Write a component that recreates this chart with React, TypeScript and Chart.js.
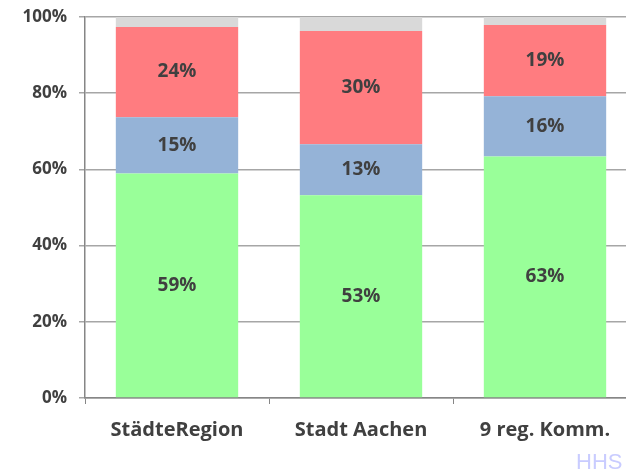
import React, { useEffect, useRef } from "react";
import { Chart, registerables } from "chart.js";

Chart.register(...registerables);

const categories = ["StädteRegion", "Stadt Aachen", "9 reg. Komm."];
const greenValues = [58.9, 53.2, 63.4];
const blueValues = [14.8, 13.4, 15.8];
const redValues = [23.7, 29.7, 18.7];
const grayValues = [2.6, 3.7, 2.1];
const yTicks = [0, 20, 40, 60, 80, 100];

const FONT = "'Open Sans', Lato, sans-serif";
const TEXT = "#404040";

const labelPlugin = {
  id: "segLabels",
  afterDatasetsDraw(chart: any) {
    const ctx = chart.ctx;
    ctx.save();
    ctx.font = `bold 19px ${FONT}`;
    ctx.fillStyle = TEXT;
    ctx.textAlign = "center";
    ctx.textBaseline = "middle";
    chart.data.datasets.forEach((ds: any, di: number) => {
      if (di > 2) return;
      const meta = chart.getDatasetMeta(di);
      meta.data.forEach((bar: any, i: number) => {
        const v = ds.data[i];
        const y = (bar.y + bar.base) / 2;
        ctx.fillText(`${Math.round(v)}%`, bar.x, y);
      });
    });
    ctx.restore();
  },
};

export default function App() {
  const ref = useRef<HTMLCanvasElement>(null);
  useEffect(() => {
    if (!ref.current) return;
    const chart = new Chart(ref.current, {
      type: "bar",
      data: {
        labels: categories,
        datasets: [
          { data: greenValues, backgroundColor: "#99FF99" },
          { data: blueValues, backgroundColor: "#95B3D7" },
          { data: redValues, backgroundColor: "#FF7C80" },
          { data: grayValues, backgroundColor: "#D9D9D9" },
        ].map((d) => ({ ...d, categoryPercentage: 1, barPercentage: 0.665, borderWidth: 0 })),
      },
      options: {
        animation: false,
        responsive: false,
        maintainAspectRatio: false,
        layout: { padding: { top: 17, right: 23, left: 0, bottom: 0 } },
        plugins: { legend: { display: false }, tooltip: { enabled: false } },
        scales: {
          x: {
            stacked: true,
            offset: true,
            grid: {
              offset: true,
              drawOnChartArea: false,
              drawTicks: true,
              tickLength: 6,
              color: "#868686",
              lineWidth: 1,
            },
            border: { color: "#868686", width: 1.5 },
            ticks: {
              color: TEXT,
              font: { family: FONT, size: 20, weight: "bold" },
              padding: 14,
            },
            afterFit(scale: any) {
              scale.height = 74;
              scale.paddingLeft = 0;
              scale.paddingRight = 0;
            },
          },
          y: {
            stacked: true,
            min: 0,
            max: 100,
            afterBuildTicks(scale: any) {
              scale.ticks = yTicks.map((v) => ({ value: v }));
            },
            grid: {
              color: "#A6A6A6",
              lineWidth: 1.5,
              tickLength: 6,
            },
            border: { color: "#868686", width: 1.5 },
            ticks: {
              color: TEXT,
              font: { family: FONT, size: 17, weight: "bold" },
              padding: 12,
              callback: (v: any) => `${v}%`,
            },
            afterFit(scale: any) {
              scale.width = 85;
              scale.paddingTop = 0;
              scale.paddingBottom = 0;
            },
          },
        },
      },
      plugins: [labelPlugin],
    });
    return () => chart.destroy();
  }, []);
  return (
    <div style={{ position: "fixed", left: 0, top: 0, width: 660, height: 472, background: "#fff", overflow: "hidden" }}>
      <canvas ref={ref} width={660} height={472} style={{ display: "block" }} />
      <div
        style={{
          position: "absolute",
          left: 576,
          top: 450,
          fontFamily: "'Liberation Sans', Arial, sans-serif",
          fontSize: 22,
          color: "#C9CCFF",
          lineHeight: "24px",
        }}
      >
        HHS
      </div>
    </div>
  );
}
